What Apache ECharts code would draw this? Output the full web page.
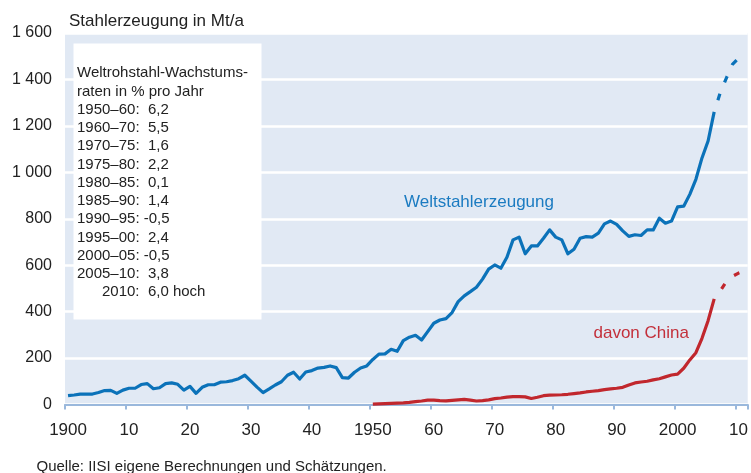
<!DOCTYPE html>
<html>
<head>
<meta charset="utf-8">
<script src="https://cdn.jsdelivr.net/npm/echarts@6/dist/echarts.min.js"></script>
<style>
html,body{margin:0;padding:0;background:#fff;}
#c{width:751px;height:473px;}
</style>
</head>
<body>
<div id="c"></div>
<script>
// ---- data ----
const firstYear = 1900;
const lastYear = 2011;
const yTicks = [0, 200, 400, 600, 800, 1000, 1200, 1400, 1600];

const worldStart = 1900;
const worldValues = [
  38, 41, 45, 45, 45, 52, 60, 61, 48, 62,
  70, 70, 86, 90, 68, 72, 90, 93, 87, 62,
  78, 48, 74, 85, 85, 96, 98, 103, 111, 126,
  101, 75, 51, 67, 84, 98, 126, 139, 110, 140,
  146, 157, 160, 166, 159, 116, 114, 139, 157, 166,
  194, 217, 218, 238, 229, 275, 290, 298, 278, 314,
  350, 364, 370, 396, 443, 468, 486, 505, 540, 583,
  601, 587, 634, 709, 721, 649, 683, 683, 716, 752,
  721, 709, 649, 669, 716, 723, 721, 738, 778, 790,
  776, 748, 724, 731, 728, 752, 752, 802, 781, 790,
  851, 854, 905, 970, 1062, 1135, 1260
];
const worldForecastStart = 2006;
const worldForecast = [1260, 1343, 1406, 1465, 1492];

const chinaStart = 1950;
const chinaValues = [
  2, 3, 4, 5, 6, 7, 9, 12, 15, 19,
  19, 17, 16, 18, 20, 22, 19, 15, 17, 20,
  25, 28, 32, 34, 34, 33, 26, 31, 38, 40,
  41, 42, 44, 47, 50, 54, 57, 60, 64, 67,
  70, 74, 84, 93, 97, 100, 106, 111, 119, 127,
  131, 156, 192, 223, 285, 361, 455
];
const chinaForecastStart = 2006;
const chinaForecast = [455, 490, 530, 552, 566, 577];

const growthPeriods = ['1950–60', '1960–70', '1970–75', '1975–80', '1980–85', '1985–90', '1990–95', '1995–00', '2000–05', '2005–10'];
const growthRates = ['6,2', '5,5', '1,6', '2,2', '0,1', '1,4', '-0,5', '2,4', '-0,5', '3,8'];
const growthLast = ['2010', '6,0 hoch'];

// ---- build ----
const years = [];
for (let y = firstYear; y <= lastYear; y++) years.push(String(y));
function place(start, vals) {
  const arr = new Array(years.length).fill(null);
  vals.forEach((v, i) => { arr[start - firstYear + i] = v; });
  return arr;
}

const BLUE = '#0B72B9';
const RED = '#C1272D';
const FONT = '"Liberation Sans", Arial, Helvetica, sans-serif';

const boxLines = ['Weltrohstahl-Wachstums-', 'raten in % pro Jahr'];
growthPeriods.forEach((p, i) => {
  const r = growthRates[i];
  boxLines.push(p + ':' + (r.charAt(0) === '-' ? ' ' : '  ') + r);
});
boxLines.push('      ' + growthLast[0] + ':  ' + growthLast[1]);

const graphics = [
  { type: 'rect', shape: { x: 73.5, y: 43.5, width: 188, height: 276 }, style: { fill: '#ffffff' }, z: 10 },
  { type: 'text', z: 11, style: { x: 69, y: 21.5, text: 'Stahlerzeugung in Mt/a', font: '17px ' + FONT, fill: '#222', verticalAlign: 'middle' } },
  { type: 'text', z: 11, style: { x: 36.5, y: 466.5, text: 'Quelle: IISI eigene Berechnungen und Schätzungen.', font: '15px ' + FONT, fill: '#222', verticalAlign: 'middle' } },
  { type: 'text', z: 11, style: { x: 404, y: 202.5, text: 'Weltstahlerzeugung', font: '17px ' + FONT, fill: '#1B7BC1', verticalAlign: 'middle' } },
  { type: 'text', z: 11, style: { x: 593.5, y: 333.5, text: 'davon China', font: '17px ' + FONT, fill: '#C3303B', verticalAlign: 'middle' } }
];
boxLines.forEach((t, i) => {
  graphics.push({ type: 'text', z: 11, style: { x: 77, y: 73.3 + i * 18.25, text: t, font: '15px ' + FONT, fill: '#222', verticalAlign: 'middle' } });
});

const decade = (idx) => (firstYear + idx) % 10 === 0;

const chart = echarts.init(document.getElementById('c'), null, { renderer: 'canvas' });
chart.setOption({
  animation: false,
  backgroundColor: '#ffffff',
  grid: { left: 65, right: -1.2, top: 33, bottom: 68.5, show: true, backgroundColor: '#E1E9F4', borderWidth: 0, containLabel: false },
  xAxis: {
    type: 'category',
    data: years,
    boundaryGap: true,
    axisLine: { lineStyle: { color: '#9AB8DC', width: 2 } },
    axisTick: { show: true, interval: decade, length: 5, alignWithLabel: false, lineStyle: { color: '#9AB8DC', width: 2 } },
    axisLabel: {
      interval: decade,
      margin: 17,
      fontSize: 17,
      fontFamily: FONT,
      color: '#222',
      formatter: (v) => {
        const y = +v;
        return (y % 50 === 0) ? v : v.slice(2);
      }
    },
    splitLine: { show: false }
  },
  yAxis: {
    type: 'value',
    min: yTicks[0],
    max: yTicks[yTicks.length - 1],
    interval: yTicks[1] - yTicks[0],
    axisLine: { show: false },
    axisTick: { show: false },
    axisLabel: {
      margin: 13,
      fontSize: 16,
      fontFamily: FONT,
      color: '#222',
      formatter: (v) => v >= 1000 ? String(v).replace(/(\d)(\d{3})$/, '$1 $2') : String(v)
    },
    splitLine: { lineStyle: { color: '#ffffff', width: 2.5 } }
  },
  series: [
    { type: 'line', data: place(worldStart, worldValues), symbol: 'none', connectNulls: false, z: 3,
      lineStyle: { color: BLUE, width: 3.2, join: 'round' } },
    { type: 'line', data: place(worldForecastStart, worldForecast), symbol: 'none', z: 3,
      lineStyle: { color: BLUE, width: 3.2, type: [6.7, 12.3], dashOffset: 6.7 } },
    { type: 'line', data: place(chinaStart, chinaValues), symbol: 'none', z: 3,
      lineStyle: { color: RED, width: 3.2, join: 'round' } },
    { type: 'line', data: place(chinaForecastStart, chinaForecast), symbol: 'none', z: 3,
      lineStyle: { color: RED, width: 3.2, type: [6, 12.5], dashOffset: 6 } }
  ],
  graphic: graphics
});
</script>
</body>
</html>
